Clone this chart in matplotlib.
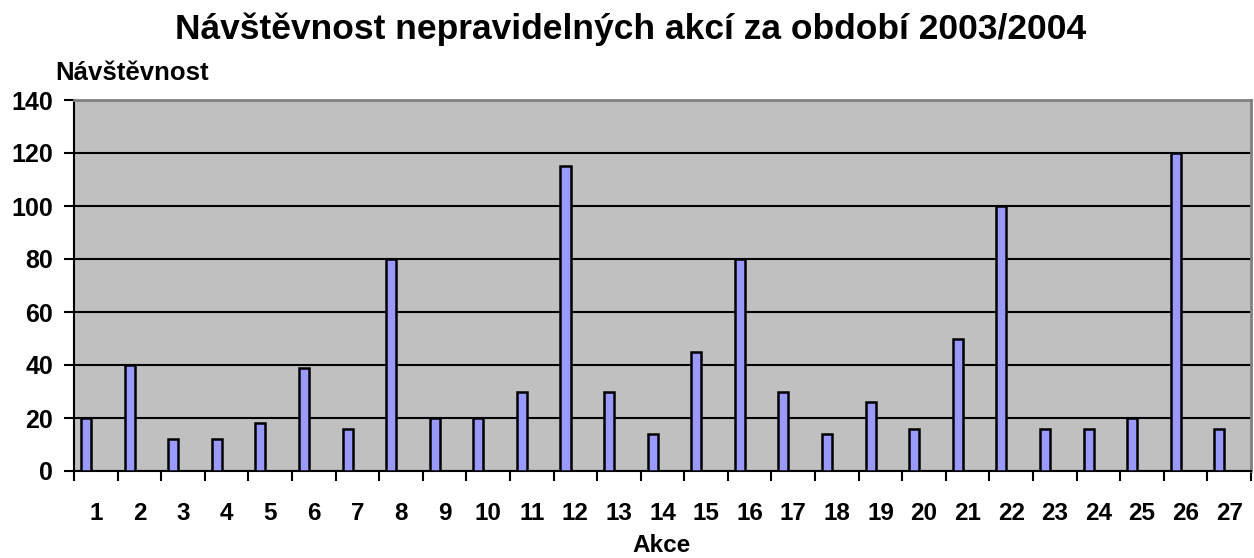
import matplotlib.pyplot as plt
import numpy as np

plt.rcParams['font.family'] = ['Liberation Sans', 'DejaVu Sans']
plt.rcParams['font.weight'] = 'bold'

akce = [str(i) for i in range(1, 28)]
navstevnost = [20, 40, 12, 12, 18, 39, 16, 80, 20, 20, 30, 115, 30, 14, 45,
               80, 30, 14, 26, 16, 50, 100, 16, 16, 20, 120, 16]
yticks = [0, 20, 40, 60, 80, 100, 120, 140]

fig = plt.figure(figsize=(12.54, 5.58), dpi=100, facecolor='white')
ax = fig.add_axes([74 / 1254, 87 / 558, 1177 / 1254, 371 / 558])
ax.set_facecolor('#C0C0C0')

x = np.arange(len(akce))
# bars sit in the left half of each category slot (excel style)
ax.bar(x - 0.225, navstevnost, width=0.23, color='#9999FF',
       edgecolor='black', linewidth=1.8, zorder=3)

ax.set_xlim(-0.5, len(akce) - 0.5)
ax.set_ylim(0, 140)
ax.set_yticks(yticks)
ax.yaxis.grid(True, color='black', linewidth=1.5, zorder=1)
ax.set_axisbelow(True)

ax.set_xticks(x)
ax.set_xticklabels(akce)
ax.set_xticks(np.arange(len(akce) + 1) - 0.5, minor=True)
ax.tick_params(axis='x', which='major', length=0, pad=22, labelsize=17.5)
ax.tick_params(axis='x', which='minor', length=7, width=1.5, direction='out')
ax.tick_params(axis='y', length=7, width=1.5, pad=8, labelsize=18)

for s in ['top', 'right']:
    ax.spines[s].set_color('#808080')
    ax.spines[s].set_linewidth(2)
for s in ['left', 'bottom']:
    ax.spines[s].set_color('black')
    ax.spines[s].set_linewidth(1.5)

fig.text(631 / 1254, 1 - 39 / 558, 'Návštěvnost nepravidelných akcí za období 2003/2004',
         ha='center', va='baseline', fontsize=25.5, fontweight='bold')
fig.text(55 / 1254, 1 - 80 / 558, 'Návštěvnost', ha='left', va='baseline',
         fontsize=18.5, fontweight='bold')
fig.text(662 / 1254, 1 - 552 / 558, 'Akce', ha='center', va='baseline',
         fontsize=17.5, fontweight='bold')

fig.savefig('out.png', dpi=100)
